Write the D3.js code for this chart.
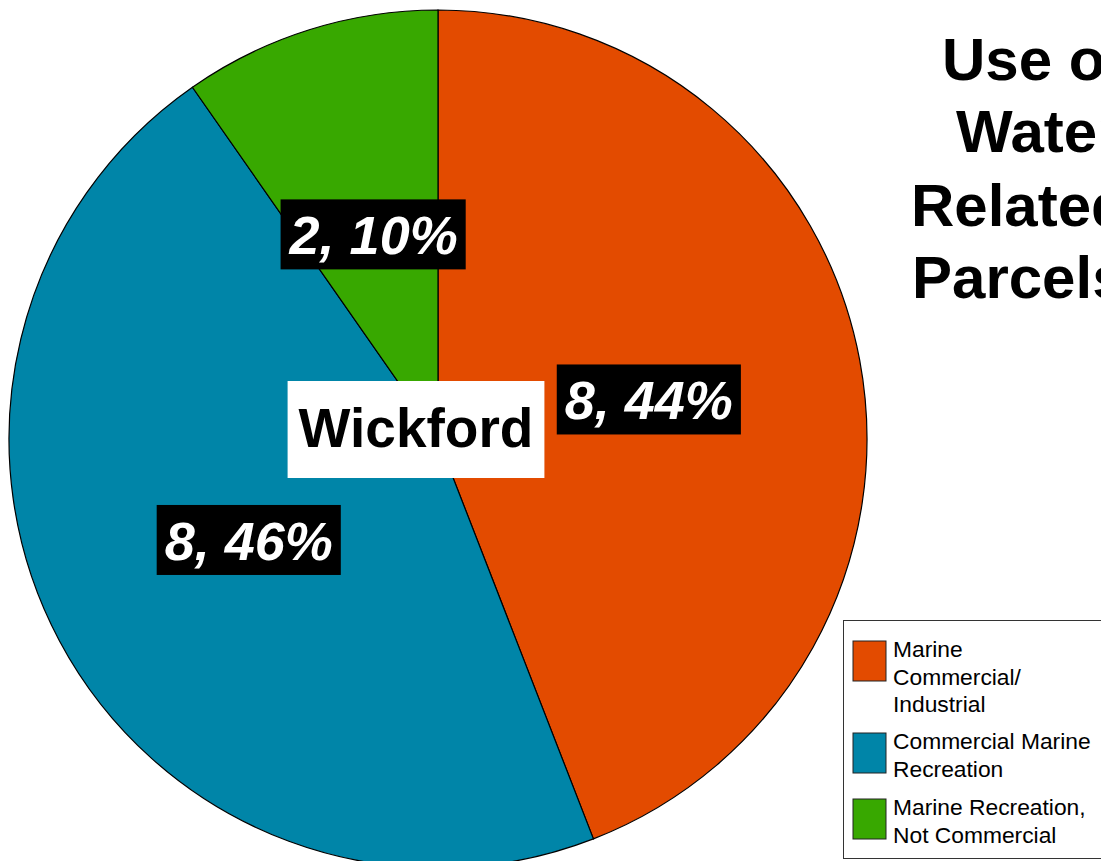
<!DOCTYPE html>
<html>
<head>
<meta charset="utf-8">
<script src="https://cdn.jsdelivr.net/npm/d3@7"></script>
<style>
  html, body { margin: 0; padding: 0; background: #fff; overflow: hidden; }
  svg { display: block; font-family: "Liberation Sans", Arial, sans-serif; }
</style>
</head>
<body>
<svg id="chart" width="1101" height="861"></svg>
<script>
// ---- data ----
const categories = ["Marine Commercial/ Industrial", "Commercial Marine Recreation", "Marine Recreation, Not Commercial"];
const legendLines = [["Marine", "Commercial/", "Industrial"], ["Commercial Marine", "Recreation"], ["Marine Recreation,", "Not Commercial"]];
const counts = [8, 8, 2];
const shares = [44.1, 46.2, 9.7];
const percentLabels = ["44%", "46%", "10%"];
const colors = ["#e34b00", "#0085a8", "#38a800"];
const titleLines = ["Use of", "Water", "Related", "Parcels"];
const centerLabel = "Wickford";

// ---- layout ----
const svg = d3.select("#chart");
const cx = 438, cy = 439, R = 429;

const pie = d3.pie().sort(null).value(d => d.share);
const rows = categories.map((c, i) => ({ cat: c, count: counts[i], share: shares[i], pct: percentLabels[i], color: colors[i] }));
const arcs = pie(rows);
const arc = d3.arc().innerRadius(0).outerRadius(R);

const g = svg.append("g").attr("transform", `translate(${cx},${cy})`);
g.selectAll("path.slice").data(arcs).join("path")
  .attr("class", "slice")
  .attr("d", arc)
  .attr("fill", d => d.data.color)
  .attr("stroke", "#000")
  .attr("stroke-width", 1.2);

// data labels
const labelArc = d3.arc().innerRadius(0).outerRadius(R);
const lg = g.selectAll("g.lbl").data(arcs).join("g")
  .attr("class", "lbl")
  .attr("transform", d => { const [x, y] = labelArc.centroid(d); return `translate(${x},${y})`; });
lg.append("rect").attr("fill", "#000");
lg.append("text")
  .attr("text-anchor", "middle")
  .attr("y", 20)
  .attr("fill", "#fff")
  .attr("font-size", 54)
  .attr("font-weight", "bold")
  .attr("font-style", "italic")
  .text(d => `${d.data.count}, ${d.data.pct}`);
lg.each(function () {
  const t = d3.select(this).select("text").node().getBBox();
  d3.select(this).select("rect")
    .attr("x", t.x - 8).attr("width", t.width + 16)
    .attr("y", -35).attr("height", 70);
});

// center label
const wg = g.append("g").attr("transform", "translate(-22,-10)");
const wr = wg.append("rect").attr("fill", "#fff");
const wt = wg.append("text")
  .attr("text-anchor", "middle")
  .attr("y", 18)
  .attr("font-size", 55)
  .attr("font-weight", "bold")
  .attr("fill", "#000")
  .text(centerLabel);
const wb = wt.node().getBBox();
wr.attr("x", wb.x - 11).attr("width", wb.width + 22).attr("y", -48).attr("height", 97);

// title
const titleX = [942, 956, 911, 912];
const titleY = [80, 152, 226, 298];
svg.append("g").selectAll("text").data(titleLines).join("text")
  .attr("x", (d, i) => titleX[i])
  .attr("y", (d, i) => titleY[i])
  .attr("font-size", 60)
  .attr("font-weight", "bold")
  .attr("fill", "#000")
  .text(d => d);

// legend
const legend = svg.append("g").attr("transform", "translate(843,620)");
legend.append("rect")
  .attr("x", 0.5).attr("y", 0.5).attr("width", 300).attr("height", 238)
  .attr("fill", "#fff").attr("stroke", "#333").attr("stroke-width", 1);
const itemTop = [21, 113, 179];
const items = legend.selectAll("g.item").data(rows).join("g")
  .attr("class", "item")
  .attr("transform", (d, i) => `translate(10,${itemTop[i]})`);
items.append("rect")
  .attr("width", 33).attr("height", 40)
  .attr("fill", d => d.color)
  .attr("stroke", "#222").attr("stroke-width", 1);
items.each(function (d, i) {
  const t = d3.select(this).append("text")
    .attr("x", 40)
    .attr("font-size", 22.8)
    .attr("fill", "#000");
  legendLines[i].forEach((line, j) => {
    t.append("tspan").attr("x", 40).attr("y", 16 + j * 27.5).text(line);
  });
});
</script>
</body>
</html>
